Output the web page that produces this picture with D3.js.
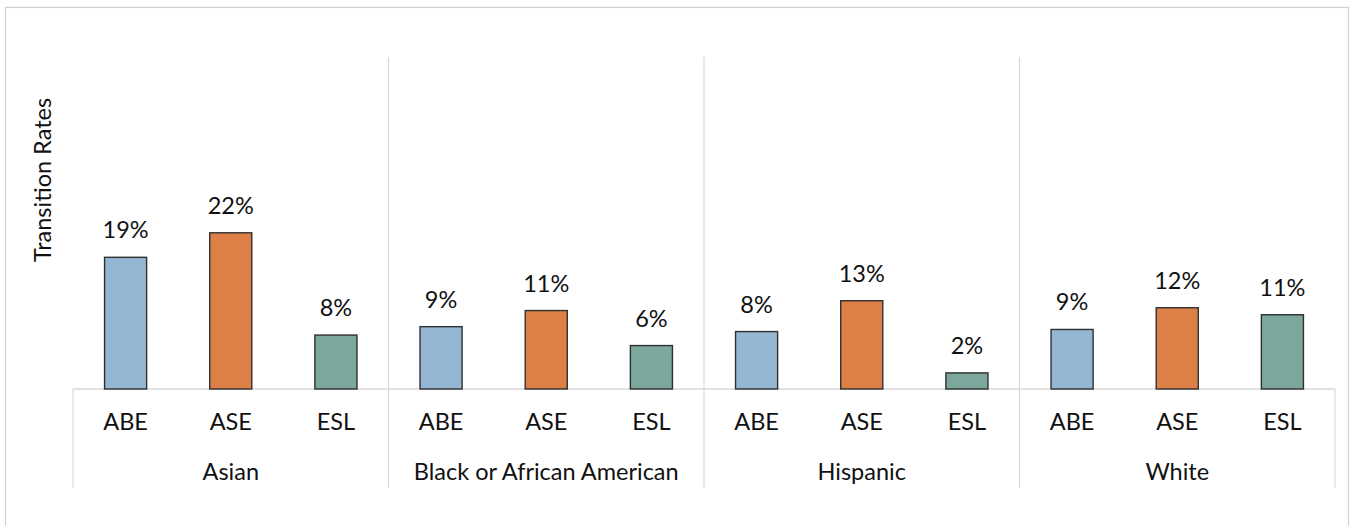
<!DOCTYPE html>
<html><head><meta charset="utf-8">
<script src="https://cdn.jsdelivr.net/npm/d3@7"></script>
<style>body{margin:0;background:#fff;}svg{display:block;font-family:Lato,"Open Sans",sans-serif;}</style>
</head><body>
<svg id="c" width="1351" height="526"></svg>
<script>
const groups = ["Asian", "Black or African American", "Hispanic", "White"];
const programs = ["ABE", "ASE", "ESL"];
const abe = [0.188, 0.089, 0.082, 0.085];
const ase = [0.223, 0.112, 0.126, 0.116];
const esl = [0.077, 0.062, 0.023, 0.106];
const colors = ["#94B6D3", "#DD8047", "#7BA79D"];
const yTitle = "Transition Rates";

(function () {
const series = [abe, ase, esl];
const data = [];
groups.forEach((g, gi) => programs.forEach((p, pi) => data.push({g, p, pi, v: series[pi][gi]})));

const svg = d3.select("#c");
const mLeft = 73, mRight = 1335, mTop = 57, base = 389, axBottom = 488;
const fs = 23.5;

svg.append("rect").attr("x", 5.5).attr("y", 7.5).attr("width", 1343).attr("height", 530)
  .attr("fill", "none").attr("stroke", "#d0d0d0").attr("stroke-width", 1.2);

const x0 = d3.scaleBand().domain(groups).range([mLeft, mRight]).padding(0);
const x1 = d3.scaleBand().domain(programs).range([0, x0.bandwidth()]).padding(0);
const y = d3.scaleLinear().domain([0, 0.474]).range([base, mTop]);
const barW = x1.bandwidth() * 0.4;
const fmt = d3.format(".0%");
const grid = "#d9d9d9";

const seps = groups.slice(1).map(g => x0(g));
svg.selectAll("line.sep").data(seps).join("line")
  .attr("x1", d => d).attr("x2", d => d).attr("y1", mTop).attr("y2", axBottom)
  .attr("stroke", grid).attr("stroke-width", 1.2);
svg.append("line").attr("x1", mLeft).attr("x2", mRight).attr("y1", base).attr("y2", base)
  .attr("stroke", grid).attr("stroke-width", 1.5);
[mLeft, mRight].forEach(xx => svg.append("line").attr("x1", xx).attr("x2", xx).attr("y1", base).attr("y2", axBottom)
  .attr("stroke", grid).attr("stroke-width", 1.2));

svg.selectAll("rect.bar").data(data).join("rect")
  .attr("x", d => x0(d.g) + x1(d.p) + (x1.bandwidth() - barW) / 2)
  .attr("y", d => y(d.v)).attr("width", barW).attr("height", d => base - y(d.v))
  .attr("fill", d => colors[d.pi]).attr("stroke", "#2f2f2f").attr("stroke-width", 1.4);

svg.selectAll("text.val").data(data).join("text")
  .attr("x", d => x0(d.g) + x1(d.p) + x1.bandwidth() / 2)
  .attr("y", d => y(d.v) - 19)
  .attr("text-anchor", "middle").attr("font-size", fs).attr("fill", "#111")
  .text(d => fmt(d.v));

svg.selectAll("text.prog").data(data).join("text")
  .attr("x", d => x0(d.g) + x1(d.p) + x1.bandwidth() / 2)
  .attr("y", 430).attr("text-anchor", "middle").attr("font-size", fs).attr("fill", "#111")
  .text(d => d.p);

svg.selectAll("text.grp").data(groups).join("text")
  .attr("x", d => x0(d) + x0.bandwidth() / 2).attr("y", 480)
  .attr("text-anchor", "middle").attr("font-size", fs).attr("fill", "#111")
  .text(d => d);

svg.append("text").attr("transform", "translate(51,180) rotate(-90)")
  .attr("text-anchor", "middle").attr("font-size", fs).attr("fill", "#111").text(yTitle);
})();
</script>
</body></html>
